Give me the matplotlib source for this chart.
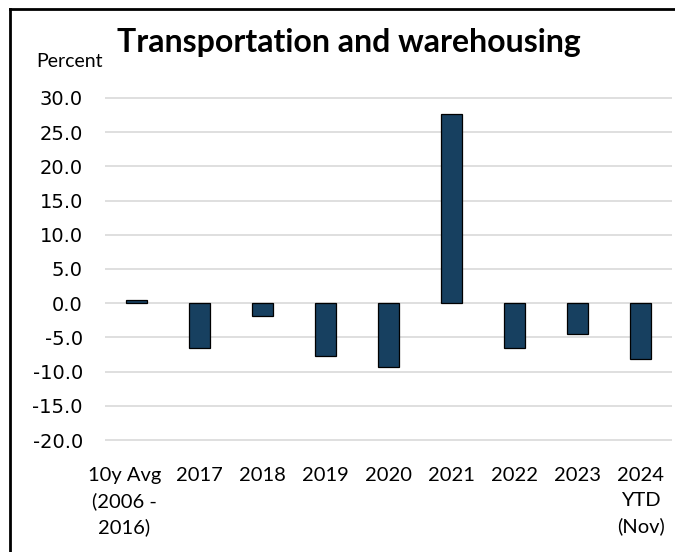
import numpy as np
import matplotlib
matplotlib.use("Agg")
import matplotlib.pyplot as plt
from matplotlib.lines import Line2D
from matplotlib.transforms import ScaledTranslation

# values
categories = ["10y Avg\n(2006 -\n2016)", "2017", "2018", "2019", "2020",
              "2021", "2022", "2023", "2024\nYTD\n(Nov)"]
values = [0.5, -6.6, -1.9, -7.7, -9.4, 27.7, -6.5, -4.5, -8.2]
yticks = [30, 25, 20, 15, 10, 5, 0, -5, -10, -15, -20]

bar_color = "#174060"
grid_color = "#D9D9D9"

W, H = 675, 552
fig = plt.figure(figsize=(W / 100, H / 100), dpi=100)

# axes box in pixels: x 105..672, y(30)=98, y(-20)=440, padded half a unit
ppu = (440 - 98) / 50.0
top_px = 98 - 0.5 * ppu
bot_px = 440 + 0.5 * ppu
ax = fig.add_axes([105 / W, 1 - bot_px / H, (672 - 105) / W, (bot_px - top_px) / H])

x = np.arange(len(categories))
ax.bar(x, values, width=0.33, color=bar_color, edgecolor="black",
       linewidth=0.9, zorder=3)

ax.set_xlim(-0.5, len(categories) - 0.5)
ax.set_ylim(-20.5, 30.5)
ax.set_yticks(yticks)
ax.set_yticklabels([f"{v:.1f}" for v in yticks], fontfamily="DejaVu Sans",
                   fontsize=14)
ax.set_xticks(x)
ax.set_xticklabels(categories, fontfamily="Lato", fontsize=14.5,
                   linespacing=1.55)
ax.tick_params(axis="y", length=0, pad=16)
ax.tick_params(axis="x", length=0, pad=17)

# the wide first label sits a bit left of its bar, as in the original
first = ax.get_xticklabels()[0]
first.set_transform(first.get_transform()
                    + ScaledTranslation(-0.12, 0, fig.dpi_scale_trans))

for v in yticks:
    ax.axhline(v, color=grid_color, linewidth=1.2, zorder=1)
for s in ax.spines.values():
    s.set_visible(False)

fig.text(117 / W, 1 - 52 / H, "Transportation and warehousing",
         fontfamily="Lato", fontweight="bold", fontsize=23,
         ha="left", va="baseline")
fig.text(36 / W, 1 - 67 / H, "Percent", fontfamily="Lato", fontsize=14,
         ha="left", va="baseline")

# frame edges (top and left visible in the crop)
bx = 10 / W
by = 1 - 9 / H
fig.add_artist(Line2D([bx, bx], [0, by], transform=fig.transFigure,
                      color="black", linewidth=2.0))
fig.add_artist(Line2D([bx, 1], [by, by], transform=fig.transFigure,
                      color="black", linewidth=2.0))

fig.savefig("out.png", dpi=100)
